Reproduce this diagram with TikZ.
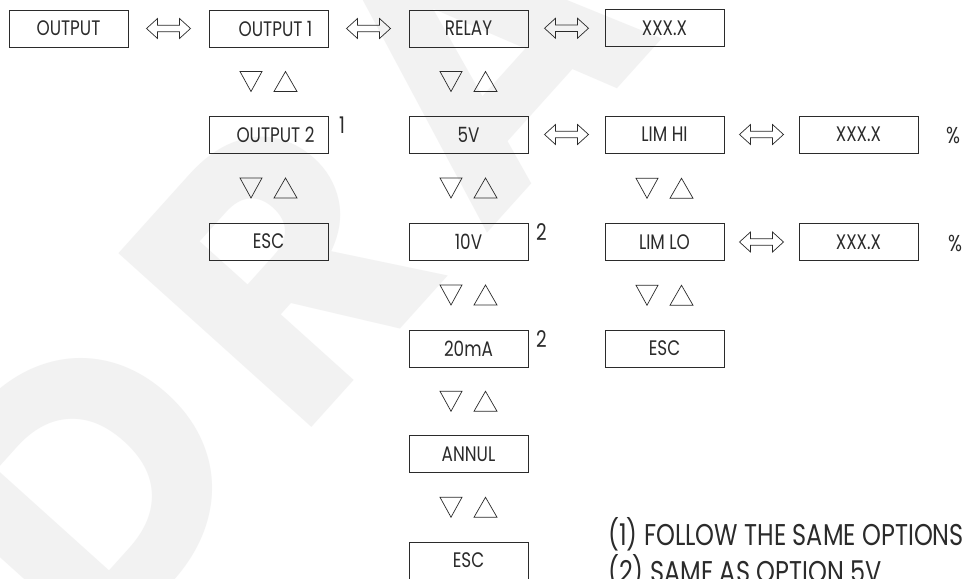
\documentclass[tikz,border=0pt]{standalone}
\usepackage{fontspec}
\setmainfont{Poppins}[FakeStretch=0.8]
\newfontfamily\wmfont{Poppins}[LetterSpace=10]
\usetikzlibrary{calc}
\definecolor{wm}{HTML}{F2F2F2}
\definecolor{ink}{HTML}{2B2B2B}
\tikzset{
  box/.style={draw=ink, line width=0.9pt, minimum width=119pt, minimum height=37pt,
    inner sep=0pt, font=\fontsize{21}{21}\selectfont, text=ink},
  sup/.style={font=\fontsize{23}{23}\selectfont, text=ink, inner sep=0pt},
  legend/.style={font=\fontsize{30}{30}\selectfont, text=ink, inner sep=0pt, anchor=base west},
  pics/dbl/.style={code={
    \draw[ink, line width=0.7pt, line join=miter]
      (-22,0) -- (-11,-10) -- (-11,-3.2) -- (11,-3.2) -- (11,-10) -- (22,0)
      -- (11,10) -- (11,3.2) -- (-11,3.2) -- (-11,10) -- cycle;}},
  pics/updown/.style={code={
    \draw[ink, line width=0.7pt, line join=miter] (-28.5,-10) -- (-6.5,-10) -- (-17.5,10) -- cycle;
    \draw[ink, line width=0.7pt, line join=miter] (5.5,10) -- (28.5,10) -- (17,-10) -- cycle;}}
}
\begin{document}
\begin{tikzpicture}[x=1pt,y=-1pt]
\useasboundingbox (0,0) rectangle (963,578);
\clip (0,0) rectangle (963,578);
\fill[white] (0,0) rectangle (963,578);
% watermark
\node[rotate=48, anchor=base west, text=wm, inner sep=0pt,
  font=\wmfont\fontsize{370}{370}\selectfont\bfseries] (wmark) at (92,672) {DRAFT};
% column 0
\node[box] (out) at (68.5,28.5) {OUTPUT};
% column 1
\node[box] (o1) at (268.5,28.5) {\hspace*{14pt}OUTPUT 1};
\node[box] (o2) at (268.5,134.5) {\hspace*{14pt}OUTPUT 2};
\node[box] (esc1) at (268.5,241.5) {ESC};
% column 2
\node[box] (relay) at (468.5,28.5) {RELAY};
\node[box] (v5) at (468.5,134.5) {5V};
\node[box] (v10) at (468.5,241.5) {10V};
\node[box] (ma) at (468.5,348.5) {20mA};
\node[box] (annul) at (468.5,454) {ANNUL};
\node[box] (esc2) at (468.5,560.5) {ESC};
% column 3
\node[box] (xr) at (664.5,28) {XXX.X};
\node[box] (limhi) at (664.5,134.5) {LIM HI};
\node[box] (limlo) at (664.5,242) {LIM LO};
\node[box] (esc3) at (664.5,348.5) {ESC};
% column 4
\node[box] (xhi) at (858.5,134.5) {XXX.X};
\node[box] (xlo) at (858.5,242) {XXX.X};
% marks
\node[sup] (s1) at (342,125) {1};
\node[sup] (s2) at (541.5,232) {2};
\node[sup] (s3) at (541.5,339) {2};
\node[sup] (p1) at (953,135) {\%};
\node[sup] (p2) at (955,243) {\%};
% horizontal double arrows
\pic at ($(out.east)!0.5!(o1.west)$) {dbl};
\pic at ($(o1.east)!0.5!(relay.west)$) {dbl};
\pic at ($(relay.east)!0.5!(xr.west)$) {dbl};
\pic at ($(v5.east)!0.5!(limhi.west)$) {dbl};
\pic at ($(limhi.east)!0.5!(xhi.west)$) {dbl};
\pic at ($(limlo.east)!0.5!(xlo.west)$) {dbl};
% vertical up/down marks
\pic at ($(o1.south)!0.5!(o2.north)$) {updown};
\pic at ($(o2.south)!0.5!(esc1.north)$) {updown};
\pic at ($(relay.south)!0.5!(v5.north)$) {updown};
\pic at ($(v5.south)!0.5!(v10.north)$) {updown};
\pic at ($(v10.south)!0.5!(ma.north)$) {updown};
\pic at ($(ma.south)!0.5!(annul.north)$) {updown};
\pic at ($(annul.south)!0.5!(esc2.north)$) {updown};
\pic at ($(limhi.south)!0.5!(limlo.north)$) {updown};
\pic at ($(limlo.south)!0.5!(esc3.north)$) {updown};
% legend
\node[legend] (l1) at (608,545) {(1) FOLLOW THE SAME OPTIONS I};
\node[legend] (l2) at (608,582) {(2) SAME AS OPTION 5V};
\end{tikzpicture}
\end{document}
